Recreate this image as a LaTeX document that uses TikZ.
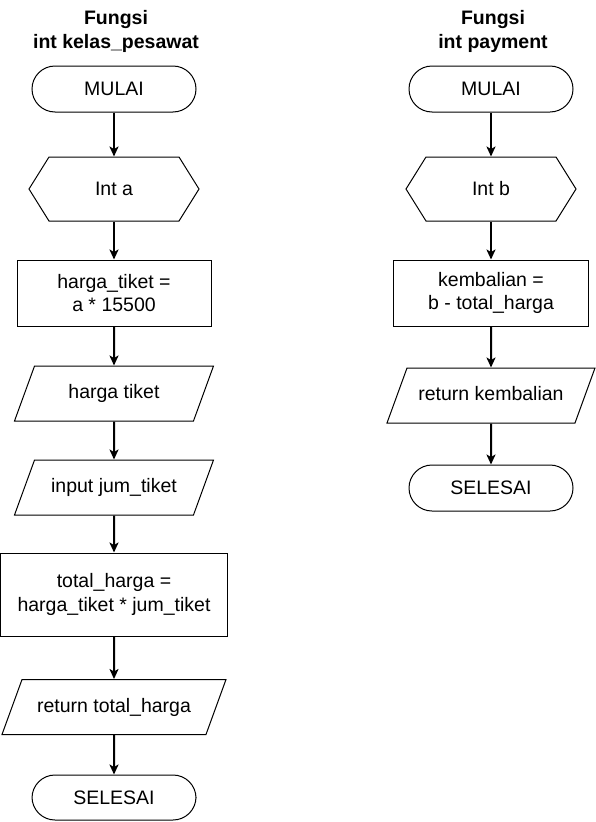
\documentclass[tikz,border=0pt]{standalone}
\usepackage{fontspec}
\setmainfont{Liberation Sans}
\usepackage{tikz}
\usetikzlibrary{shapes.geometric,shapes.symbols,arrows.meta}

\begin{document}
\begin{tikzpicture}[
        x=1pt, y=-1pt,
        every node/.style={font=\fontsize{19.5}{23.5}\selectfont, align=center, inner sep=0pt},
        title/.style={font=\fontsize{19.5}{24}\selectfont\bfseries},
        term/.style={draw, line width=1pt, rounded corners=23pt, minimum width=164, minimum height=46},
        prep/.style={draw, line width=1pt, signal, signal to=east and west, signal pointer angle=116, minimum width=170, minimum height=64},
        proc/.style={draw, line width=1pt, rectangle, minimum height=66},
        io/.style={draw, line width=1pt, trapezium, trapezium left angle=70, trapezium right angle=110, trapezium stretches body,
            text height=14pt, text depth=4pt, inner ysep=18.5pt},
        arrow/.style={line width=2pt, -{Stealth[length=10pt, width=9pt, inset=2.5pt]}}
    ]

    \useasboundingbox (0,0) rectangle (596,822);

    % --- Left Flowchart: int kelas_pesawat ---
    \begin{scope}[shift={(114,0)}]
        % Nodes
        \node[title] (titleA) at (2,31) {Fungsi\\int kelas\_pesawat};
        \node[term] (startA) at (0,89) {MULAI};
        \node[prep] (inA) at (0,189) {Int a};
        \node[proc, minimum width=194] (hargaA) at (0,293) {harga\_tiket =\\a * 15500};
        \node[io, minimum width=199] (outA) at (0,393.5) {harga tiket};
        \node[io, minimum width=199] (jumA) at (0,487.5) {input jum\_tiket};
        \node[proc, minimum width=227, minimum height=83] (totalA) at (0,594.5) {total\_harga =\\harga\_tiket * jum\_tiket};
        \node[io, minimum width=224] (retA) at (0,707) {return total\_harga};
        \node[term, minimum height=45] (endA) at (0,797.5) {SELESAI};

        % Arrows
        \draw[arrow] (startA.south) -- (inA.north);
        \draw[arrow] (inA.south) -- (hargaA.north);
        \draw[arrow] (hargaA.south) -- (outA.north);
        \draw[arrow] (outA.south) -- (jumA.north);
        \draw[arrow] (jumA.south) -- (totalA.north);
        \draw[arrow] (totalA.south) -- (retA.north);
        \draw[arrow] (retA.south) -- (endA.north);
    \end{scope}

    % --- Right Flowchart: int payment ---
    \begin{scope}[shift={(491,0)}]
        % Nodes
        \node[title] (titleB) at (2,31) {Fungsi\\int payment};
        \node[term] (startB) at (0,89) {MULAI};
        \node[prep] (inB) at (0,189) {Int b};
        \node[proc, minimum width=195] (kembaliB) at (0,293) {kembalian =\\b - total\_harga};
        \node[io, minimum width=208] (retB) at (0,395.5) {return kembalian};
        \node[term] (endB) at (0,488) {SELESAI};

        % Arrows
        \draw[arrow] (startB.south) -- (inB.north);
        \draw[arrow] (inB.south) -- (kembaliB.north);
        \draw[arrow] (kembaliB.south) -- (retB.north);
        \draw[arrow] (retB.south) -- (endB.north);
    \end{scope}

\end{tikzpicture}
\end{document}
